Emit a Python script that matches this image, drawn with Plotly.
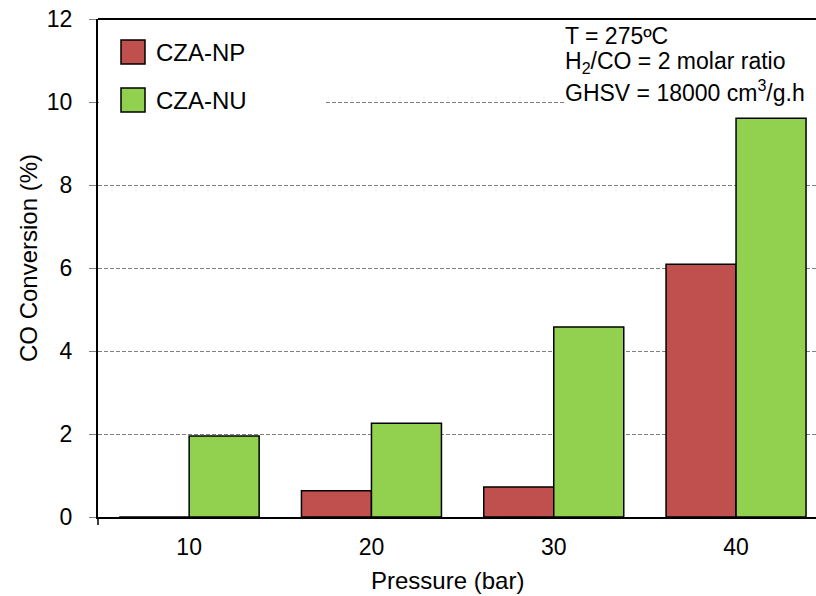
import plotly.graph_objects as go

categories = ["10", "20", "30", "40"]
cza_np = [0, 0.63, 0.72, 6.09]
cza_nu = [1.95, 2.26, 4.58, 9.61]
series_names = ["CZA-NP", "CZA-NU"]
colors = ["#C0504D", "#92D050"]

W, H = 816, 596
L, R, T, B = 98, 816, 19, 517
FONT = "Liberation Sans, Arial, sans-serif"


def px(x):
    return (x - L) / (R - L)


def py(y):
    return (B - y) / (B - T)


fig = go.Figure()
for name, vals, col in zip(series_names, [cza_np, cza_nu], colors):
    fig.add_trace(go.Bar(x=categories, y=vals, name=name,
                         marker=dict(color=col, line=dict(color="black", width=1.5)),
                         showlegend=False))

shapes = [
    dict(type="rect", xref="paper", yref="paper", x0=px(99), x1=px(325), y0=py(125), y1=py(22),
         fillcolor="white", line=dict(width=0), layer="above"),
    dict(type="rect", xref="paper", yref="paper", x0=px(565), x1=px(816), y0=py(108), y1=py(22),
         fillcolor="white", line=dict(width=0), layer="above"),
    dict(type="line", xref="paper", yref="paper", x0=0, x1=1, y0=1, y1=1,
         line=dict(color="black", width=2), layer="above"),
    dict(type="line", xref="paper", yref="paper", x0=0, x1=0, y0=0, y1=py(525),
         line=dict(color="black", width=1.5), layer="above"),
]
legend_y = [52, 100]
annotations = []
for name, col, yc in zip(series_names, colors, legend_y):
    shapes.append(dict(type="rect", xref="paper", yref="paper", x0=px(121), x1=px(145),
                       y0=py(yc + 12), y1=py(yc - 12), fillcolor=col,
                       line=dict(color="black", width=1.5), layer="above"))
    annotations.append(dict(text=name, xref="paper", yref="paper", x=px(154), y=py(yc),
                            xanchor="left", yanchor="middle", showarrow=False,
                            font=dict(family=FONT, size=24, color="black")))

cond_lines = ["T = 275ºC", "H<sub>2</sub>/CO = 2 molar ratio", "GHSV = 18000 cm<sup>3</sup>/g.h"]
cond_y = [36, 63, 91]
for txt, yc in zip(cond_lines, cond_y):
    annotations.append(dict(text=txt, xref="paper", yref="paper", x=px(563), y=py(yc),
                            xanchor="left", yanchor="middle", showarrow=False,
                            font=dict(family=FONT, size=23, color="black")))

# axis titles
annotations.append(dict(text="Pressure (bar)", xref="paper", yref="paper", x=px(447), y=py(580),
                        xanchor="center", yanchor="middle", showarrow=False,
                        font=dict(family=FONT, size=24, color="black")))
annotations.append(dict(text="CO Conversion (%)", xref="paper", yref="paper", x=px(28), y=py(258),
                        xanchor="center", yanchor="middle", showarrow=False, textangle=-90,
                        font=dict(family=FONT, size=24, color="black")))

fig.update_layout(
    width=W, height=H,
    margin=dict(l=L, r=W - R, t=T, b=H - B),
    paper_bgcolor="white", plot_bgcolor="white",
    barmode="group", bargap=0.232, bargroupgap=0,
    font=dict(family=FONT, size=23, color="black"),
    shapes=shapes, annotations=annotations,
    xaxis=dict(type="category", range=[-0.5, -0.5 + (R - L) / 182.3],
               showline=True, linecolor="black", linewidth=2,
               ticks="", showgrid=False, ticklabelstandoff=8,
               tickfont=dict(family=FONT, size=23, color="black")),
    yaxis=dict(range=[0, 12], dtick=2, showline=True, linecolor="black", linewidth=2,
               ticks="outside", ticklen=7, tickcolor="#808080", tickwidth=1,
               ticklabelstandoff=12,
               showgrid=True, gridcolor="#808080", gridwidth=1, griddash="4px,2px",
               zeroline=False,
               tickfont=dict(family=FONT, size=23, color="black")),
)

fig.write_html("out.html")
